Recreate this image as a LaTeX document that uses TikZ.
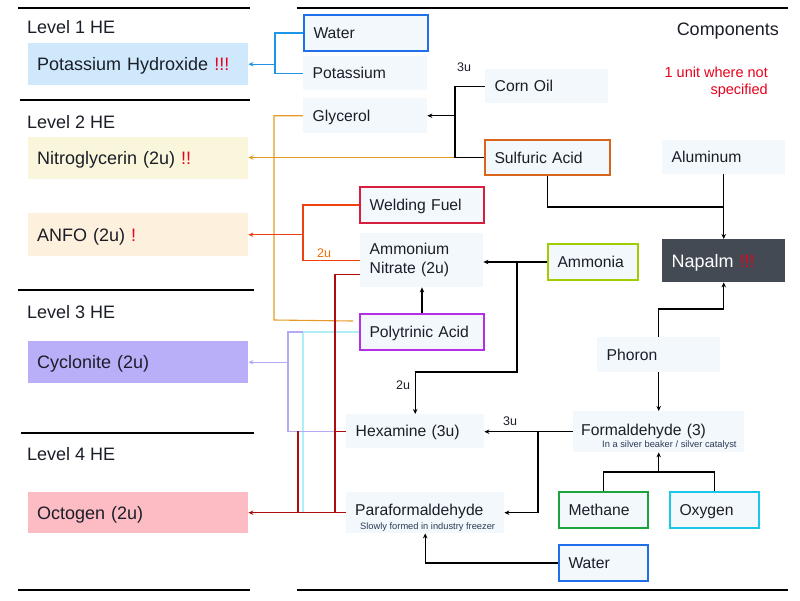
\documentclass[tikz,border=0pt]{standalone}
\usepackage{fontspec}
\setmainfont{Liberation Sans}
\usetikzlibrary{arrows.meta}
\definecolor{compfill}{HTML}{F2F8FC}
\definecolor{txt}{HTML}{1B1E28}
\definecolor{subtxt}{HTML}{2B3A55}
\definecolor{excl}{HTML}{E8001C}
\definecolor{kohfill}{HTML}{CFE8FB}
\definecolor{nitrofill}{HTML}{FAF6DC}
\definecolor{anfofill}{HTML}{FDF0DC}
\definecolor{cyclofill}{HTML}{B8AFF8}
\definecolor{octofill}{HTML}{FDBBC4}
\definecolor{napfill}{HTML}{434A54}
\definecolor{bwater}{HTML}{1F6FEA}
\definecolor{bsulf}{HTML}{D9651C}
\definecolor{bweld}{HTML}{D81E3E}
\definecolor{bammo}{HTML}{A0CC00}
\definecolor{bpoly}{HTML}{B430E4}
\definecolor{bmeth}{HTML}{1CA33C}
\definecolor{boxy}{HTML}{19C8E8}
\definecolor{cblue}{HTML}{1E96E8}
\definecolor{corange}{HTML}{E69A24}
\definecolor{cred}{HTML}{EE4010}
\definecolor{cdred}{HTML}{AE0C0C}
\definecolor{clav}{HTML}{B4AAF4}
\definecolor{ccyan}{HTML}{B0EEF6}
\definecolor{lbl2u}{HTML}{F26B00}
\newcommand{\subline}[2]{\mbox{\hspace*{#1}\fontsize{9.3}{11}\selectfont\spaceskip=0pt\xspaceskip=0pt\color{subtxt}#2}}
\begin{document}
\begin{tikzpicture}[x=1pt,y=-1pt,
  comp/.style={anchor=north west, fill=compfill, inner xsep=9.5pt, inner ysep=0pt, align=left, text=txt, font=\fontsize{15.7}{19}\selectfont},
  oneline/.style={text height=11.3pt, text depth=0pt},
  lvlbox/.style={anchor=north west, inner xsep=9pt, inner ysep=0pt, align=left, text=txt, text width=202pt, text height=12.9pt, text depth=0pt, font=\fontsize{18}{21}\selectfont},
  lvltitle/.style={anchor=base west, inner sep=0pt, text=txt, font=\fontsize{18}{21}\selectfont},
  bord/.style={draw=#1, line width=2pt},
  conn/.style={line width=1.1pt},
  arr/.style={-{Stealth[length=5pt,width=4.5pt]}},
  rulel/.style={line width=1.3pt},
  unitlbl/.style={anchor=base west, inner sep=0pt, font=\fontsize{12.5}{14}\selectfont}
]
\useasboundingbox (0,0) rectangle (800,600);

% horizontal rules
\draw[rulel] (18,8) -- (250,8);
\draw[rulel] (297,8) -- (788,8);
\draw[rulel] (20,100) -- (250,100);
\draw[rulel] (18,290) -- (254,290);
\draw[rulel] (21,433) -- (254,433);
\draw[rulel] (18,590) -- (250,590);
\draw[rulel] (297,590) -- (788,590);

% level titles
\node[lvltitle] (l1) at (27,33) {Level 1 HE};
\node[lvltitle] (l2) at (27,128) {Level 2 HE};
\node[lvltitle] (l3) at (27,318) {Level 3 HE};
\node[lvltitle] (l4) at (27,460) {Level 4 HE};

% level boxes
\node[lvlbox, fill=kohfill, minimum height=42pt] (koh) at (28,43) {Potassium Hydroxide \textcolor{excl}{!!!}};
\node[lvlbox, fill=nitrofill, minimum height=42pt] (nitro) at (28,137) {Nitroglycerin (2u) \textcolor{excl}{!!}};
\node[lvlbox, fill=anfofill, minimum height=43pt] (anfo) at (28,213) {ANFO (2u) \textcolor{excl}{!}};
\node[lvlbox, fill=cyclofill, minimum height=42pt] (cyclo) at (28,341) {Cyclonite (2u)};
\node[lvlbox, fill=octofill, minimum height=41pt] (octo) at (28,492) {Octogen (2u)};

% component boxes
\node[comp, oneline, bord=bwater, text width=105pt, minimum height=36pt] (water1) at (303,14) {Water};
\node[comp, oneline, text width=105pt, minimum height=34pt] (potassium) at (303,56) {Potassium};
\node[comp, oneline, text width=105pt, minimum height=35pt] (glycerol) at (303,98) {Glycerol};
\node[comp, oneline, text width=104pt, minimum height=34pt] (cornoil) at (485,69) {Corn Oil};
\node[comp, oneline, bord=bsulf, text width=106pt, minimum height=35pt] (sulfuric) at (484,139) {Sulfuric Acid};
\node[comp, oneline, bord=bweld, text width=105pt, minimum height=36pt] (welding) at (359,186) {Welding Fuel};
\node[comp, text width=104pt, minimum height=54pt] (an) at (360,233) {Ammonium\\Nitrate (2u)};
\node[comp, oneline, bord=bammo, text width=71pt, minimum height=36pt] (ammonia) at (547,243) {Ammonia};
\node[comp, oneline, bord=bpoly, text width=105pt, minimum height=36pt] (poly) at (359,313) {Polytrinic Acid};
\node[comp, oneline, text width=104pt, minimum height=34pt] (aluminum) at (662,140) {Aluminum};
\node[comp, fill=napfill, text=white, text width=104pt, minimum height=43pt, text height=12.9pt, text depth=0pt, font=\fontsize{18}{21}\selectfont] (napalm) at (662,239) {Napalm \textcolor{excl}{!!!}};
\node[comp, oneline, text width=104pt, minimum height=35pt] (phoron) at (597,337) {Phoron};
\node[comp, inner xsep=8pt, text width=155pt, minimum height=41pt] (formal) at (573,411) {\rule{0pt}{21.5pt}Formaldehyde (3)\\[-6.5pt]\subline{21pt}{In a silver beaker / silver catalyst}};
\node[comp, oneline, text width=119pt, minimum height=34pt] (hexa) at (346,414) {Hexamine (3u)};
\node[comp, inner xsep=9pt, text width=140pt, minimum height=41pt] (para) at (346,492) {\rule{0pt}{21.5pt}Paraformaldehyde\\[-5.5pt]\subline{5pt}{Slowly formed in industry freezer}};
\node[comp, oneline, bord=bmeth, text width=70pt, minimum height=36pt] (methane) at (558,491) {Methane};
\node[comp, oneline, bord=boxy, text width=70pt, minimum height=36pt] (oxygen) at (669,491) {Oxygen};
\node[comp, oneline, bord=bwater, text width=70pt, minimum height=36pt] (water2) at (558,544) {Water};

% titles on the right
\node[anchor=base east, inner sep=0pt, text=txt, font=\fontsize{18}{21}\selectfont] (comps) at (779,35) {Components};
\node[anchor=north east, inner sep=0pt, align=right, text=excl, font=\fontsize{14.5}{17}\selectfont] (unitnote) at (768,66.5) {1 unit where not\\specified};

% unit labels
\node[unitlbl, text=txt] (u3a) at (457,71) {3u};
\node[unitlbl, text=lbl2u] (u2a) at (317,257) {2u};
\node[unitlbl, text=txt] (u2b) at (396,389) {2u};
\node[unitlbl, text=txt] (u3b) at (503,425) {3u};

% junction coordinates
\coordinate (jb) at (275,0 |- koh.east);
\coordinate (js) at (455,0 |- sulfuric.west);
\coordinate (jg) at (455,0 |- glycerol.east);
\coordinate (jo) at (274,320);
\coordinate (jn) at (napalm.north |- 0,207);
\coordinate (jw) at (303,0 |- an.west);
\coordinate (ja) at (303,0 |- anfo.east);
\coordinate (jam) at (517,0 |- ammonia.west);
\coordinate (jr1) at (335,0 |- octo.east);
\coordinate (jr2) at (298,0 |- hexa.west);
\coordinate (jl) at (288,0 |- hexa.west);
\coordinate (jc) at (303,0 |- poly.west);
\coordinate (jp) at (napalm.south |- 0,309);
\coordinate (jf) at (538,0 |- formal.west);
\coordinate (jmo) at (formal.south |- 0,472);

% blue: Water + Potassium -> KOH
\draw[conn, cblue] (water1.west) -| (jb) |- (potassium.west);
\draw[conn, cblue, arr] (jb) -- (koh.east);

% orange: Glycerol / Sulfuric -> Nitroglycerin, Polytrinic
\draw[conn, corange] (glycerol.west) -| (jo) -- ([xshift=-6pt,yshift=11pt]poly.west);
\draw[conn, corange, arr] (js) -- (js -| nitro.east);

% black: Corn oil + Sulfuric -> Glycerol
\draw[conn] (cornoil.west) -| (js) -- (sulfuric.west);
\draw[conn, arr] (jg) -- (glycerol.east);

% Sulfuric + Aluminum -> Napalm
\draw[conn] (sulfuric.south) |- (jn);
\draw[conn, arr] (aluminum.south) -- (napalm.north);

% red-orange: Welding fuel + AN -> ANFO
\draw[conn, cred] (welding.west) -| (jw) -- (an.west);
\draw[conn, cred, arr] (ja) -- (anfo.east);

% Ammonia -> AN, Hexamine
\draw[conn, arr] (ammonia.west) -- (ammonia.west -| an.east);
\draw[conn, arr] (jam) |- (hexa.north |- 0,372) -- (hexa.north);

% Polytrinic -> AN
\draw[conn, arr] (poly.north) -- (poly.north |- an.south);

% cyan: Polytrinic -> Octogen
\draw[conn, ccyan] (poly.west) -- (jc) -- (jc |- octo.east);

% lavender: Hexamine + Polytrinic -> Cyclonite
\draw[conn, clav] (hexa.west -| jr1) -- (jl) |- (jc);
\draw[conn, clav, arr] (jl |- cyclo.east) -- (cyclo.east);

% dark red: AN, Hexamine, Paraformaldehyde -> Octogen
\draw[conn, cdred] ([yshift=-14pt]an.west) -| (jr1);
\draw[conn, cdred] (hexa.west) -- (hexa.west -| jr1);
\draw[conn, cdred] (jr2) -- (jr2 |- octo.east);
\draw[conn, cdred, arr] (para.west) -- (octo.east);

% Phoron -> Napalm, Formaldehyde
\draw[conn, arr] (phoron.north) |- (jp) -- (napalm.south);
\draw[conn, arr] (phoron.south) -- (phoron.south |- formal.north);

% Formaldehyde -> Hexamine, Paraformaldehyde
\draw[conn, arr] (formal.west) -- (formal.west -| hexa.east);
\draw[conn, arr] (jf) |- (para.east);

% Methane + Oxygen -> Formaldehyde
\draw[conn] (methane.north) |- (jmo) -| (oxygen.north);
\draw[conn, arr] (jmo) -- (formal.south);

% Water -> Paraformaldehyde
\draw[conn, arr] (water2.west) -| (para.south);
\end{tikzpicture}
\end{document}
